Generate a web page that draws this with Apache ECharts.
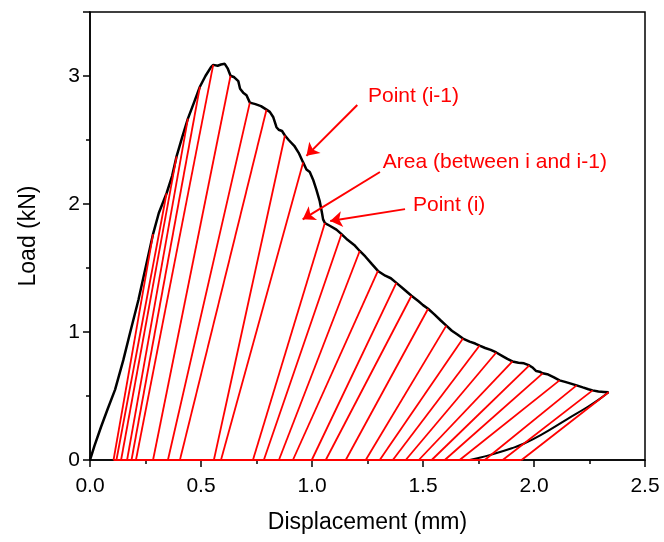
<!DOCTYPE html>
<html>
<head>
<meta charset="utf-8">
<script src="https://cdn.jsdelivr.net/npm/echarts@6/dist/echarts.min.js"></script>
<style>
  html, body { margin: 0; padding: 0; background: #fff; }
  #chart { width: 664px; height: 542px; }
</style>
</head>
<body>
<div id="chart"></div>
<script>
// Load–displacement record (displacement in mm, load in kN)
const curveDisp = [0, 0.02, 0.05, 0.08, 0.113, 0.15, 0.18, 0.218, 0.25, 0.284, 0.31, 0.345, 0.37, 0.39, 0.415,
  0.441, 0.47, 0.495, 0.52, 0.545, 0.555, 0.562, 0.575, 0.59, 0.607, 0.62, 0.633, 0.65, 0.668, 0.676, 0.69,
  0.705, 0.72, 0.745, 0.77, 0.795, 0.81, 0.825, 0.84, 0.85, 0.865, 0.878, 0.895, 0.92, 0.94, 0.96, 0.975,
  0.99, 1.005, 1.02, 1.035, 1.045, 1.05, 1.058, 1.08, 1.11, 1.133, 1.16, 1.19, 1.215, 1.24, 1.27, 1.297,
  1.33, 1.355, 1.38, 1.41, 1.448, 1.48, 1.5, 1.523, 1.55, 1.58, 1.605, 1.63, 1.655, 1.68, 1.71, 1.735,
  1.755, 1.78, 1.805, 1.83, 1.86, 1.88, 1.903, 1.93, 1.955, 1.979, 1.995, 2.01, 2.025, 2.039, 2.06, 2.09,
  2.115, 2.14, 2.17, 2.192, 2.22, 2.245, 2.264, 2.29, 2.315, 2.336];
const curveLoad = [0, 0.11, 0.26, 0.40, 0.55, 0.78, 0.99, 1.25, 1.50, 1.765, 1.93, 2.084, 2.22, 2.372, 2.52,
  2.667, 2.80, 2.916, 3.00, 3.07, 3.087, 3.10, 3.08, 3.09, 3.095, 3.06, 3.002, 2.99, 2.96, 2.90, 2.87,
  2.85, 2.792, 2.78, 2.765, 2.737, 2.72, 2.68, 2.60, 2.58, 2.57, 2.535, 2.50, 2.455, 2.40, 2.325, 2.27,
  2.25, 2.19, 2.11, 2.02, 1.93, 1.88, 1.851, 1.83, 1.80, 1.765, 1.72, 1.68, 1.633, 1.59, 1.53, 1.477,
  1.44, 1.42, 1.384, 1.34, 1.283, 1.24, 1.21, 1.182, 1.14, 1.09, 1.05, 1.01, 0.98, 0.949, 0.925, 0.91,
  0.894, 0.875, 0.86, 0.84, 0.81, 0.79, 0.77, 0.76, 0.755, 0.739, 0.72, 0.695, 0.69, 0.677, 0.67, 0.645,
  0.622, 0.61, 0.595, 0.583, 0.567, 0.553, 0.544, 0.535, 0.532, 0.529];

// Final unloading branch back to zero load
const unloadDisp = [2.336, 2.29, 2.237, 2.15, 2.03, 1.95, 1.90, 1.80, 1.75, 1.71];
const unloadLoad = [0.529, 0.47, 0.41, 0.32, 0.195, 0.125, 0.092, 0.038, 0.015, 0];

// Secant unloading lines: residual displacement at zero load and the curve point each starts from
const lineResidual = [0.106, 0.119, 0.140, 0.167, 0.187, 0.207, 0.284, 0.351, 0.405, 0.558, 0.590, 0.734,
  0.783, 0.851, 0.914, 0.999, 1.062, 1.152, 1.242, 1.305, 1.364, 1.422, 1.481, 1.539, 1.598, 1.665,
  1.778, 1.859, 1.944];
const lineTopDisp = [0.284, 0.345, 0.390, 0.441, 0.495, 0.555, 0.633, 0.720, 0.795, 0.878, 0.960, 1.058,
  1.133, 1.215, 1.297, 1.380, 1.448, 1.523, 1.605, 1.680, 1.755, 1.830, 1.903, 1.979, 2.039, 2.115,
  2.192, 2.264, 2.336];
const lineTopLoad = [1.765, 2.084, 2.372, 2.667, 2.916, 3.087, 3.002, 2.792, 2.737, 2.535, 2.325, 1.851,
  1.765, 1.633, 1.477, 1.384, 1.283, 1.182, 1.050, 0.949, 0.894, 0.840, 0.770, 0.739, 0.677, 0.622,
  0.583, 0.544, 0.529];

// Axis ranges and tick steps
const xRange = [0, 2.5];
const yRange = [0, 3.5];
const xStep = 0.5;
const yStep = 1;

// Callout texts with label anchor and arrow (tail -> head), in data units
const callouts = [
  { text: 'Point (i-1)', label: [1.252, 2.846], tail: [1.204, 2.773], head: [0.975, 2.376] },
  { text: 'Area (between i and i-1)', label: [1.319, 2.33], tail: [1.306, 2.250], head: [0.958, 1.880] },
  { text: 'Point (i)', label: [1.455, 1.993], tail: [1.419, 1.960], head: [1.082, 1.868] }
];

const FONT = '"Liberation Sans", Arial, Helvetica, sans-serif';
const RED = '#ff0000';

const zip = (a, b) => a.map((v, i) => [v, b[i]]);

const secantLines = lineResidual.map((r, i) => ({
  coords: [[r, 0], [lineTopDisp[i], lineTopLoad[i]]]
}));
// Zero-load baseline joining the residual points
secantLines.push({
  coords: [[lineResidual[0], 0], [lineResidual[lineResidual.length - 1], 0]]
});

const chart = echarts.init(document.getElementById('chart'), null, { renderer: 'canvas' });

chart.setOption({
  animation: false,
  backgroundColor: '#fff',
  textStyle: { fontFamily: FONT },
  grid: {
    left: 90, right: 19, top: 12, bottom: 82,
    show: true, borderColor: '#000', borderWidth: 1.5, backgroundColor: 'transparent'
  },
  xAxis: {
    type: 'value', min: xRange[0], max: xRange[1], interval: xStep,
    name: 'Displacement (mm)', nameLocation: 'middle', nameGap: 51,
    nameTextStyle: { fontSize: 23, color: '#000', fontFamily: FONT },
    axisLine: { onZero: false, lineStyle: { color: '#000', width: 1.5 } },
    axisTick: { inside: false, length: 7, lineStyle: { color: '#000', width: 1.5 } },
    minorTick: { show: true, splitNumber: 2, length: 4, lineStyle: { color: '#000', width: 1.5 } },
    splitLine: { show: false },
    axisLabel: {
      fontSize: 21, color: '#000', margin: 16, fontFamily: FONT,
      formatter: v => v.toFixed(1)
    }
  },
  yAxis: [{
    type: 'value', min: yRange[0], max: yRange[1], interval: yStep,
    name: 'Load (kN)', nameLocation: 'middle', nameGap: 50,
    nameTextStyle: { fontSize: 23, color: '#000', fontFamily: FONT },
    axisLine: { onZero: false, lineStyle: { color: '#000', width: 1.5 } },
    axisTick: { inside: false, length: 7, lineStyle: { color: '#000', width: 1.5 } },
    splitLine: { show: false },
    axisLabel: {
      fontSize: 21, color: '#000', margin: 10, fontFamily: FONT,
      formatter: v => (Number.isInteger(v) ? String(v) : '')
    }
  }, {
    // half-unit minor ticks on the load axis
    type: 'value', position: 'left', min: yRange[0], max: yRange[1], interval: yStep / 2,
    axisLine: { show: false },
    axisTick: { inside: false, length: 4, lineStyle: { color: '#000', width: 1.5 } },
    axisLabel: { show: false },
    splitLine: { show: false }
  }],
  series: [
    {
      name: 'Load', type: 'line', data: zip(curveDisp, curveLoad),
      showSymbol: false, smooth: false, z: 3,
      lineStyle: { color: '#000', width: 2.5 }
    },
    {
      name: 'Unloading', type: 'line', data: zip(unloadDisp, unloadLoad),
      showSymbol: false, smooth: true, z: 3,
      lineStyle: { color: '#000', width: 2 }
    },
    {
      name: 'Secant', type: 'lines', coordinateSystem: 'cartesian2d', z: 4,
      data: secantLines,
      lineStyle: { color: RED, width: 1.8, opacity: 1 }
    },
    {
      name: 'Callouts', type: 'lines', coordinateSystem: 'cartesian2d', z: 5,
      symbol: ['none', 'arrow'], symbolSize: 12,
      data: callouts.map(c => ({ coords: [c.tail, c.head] })),
      lineStyle: { color: RED, width: 2, opacity: 1 },
      itemStyle: { color: RED }
    }
  ]
});

// Callout texts placed in data space
chart.setOption({
  graphic: callouts.map(c => {
    const p = chart.convertToPixel({ xAxisIndex: 0, yAxisIndex: 0 }, c.label);
    return {
      type: 'text', x: p[0], y: p[1], z: 10,
      style: {
        text: c.text, fill: RED, font: '21px ' + FONT,
        textAlign: 'left', textVerticalAlign: 'middle'
      }
    };
  })
});
</script>
</body>
</html>
